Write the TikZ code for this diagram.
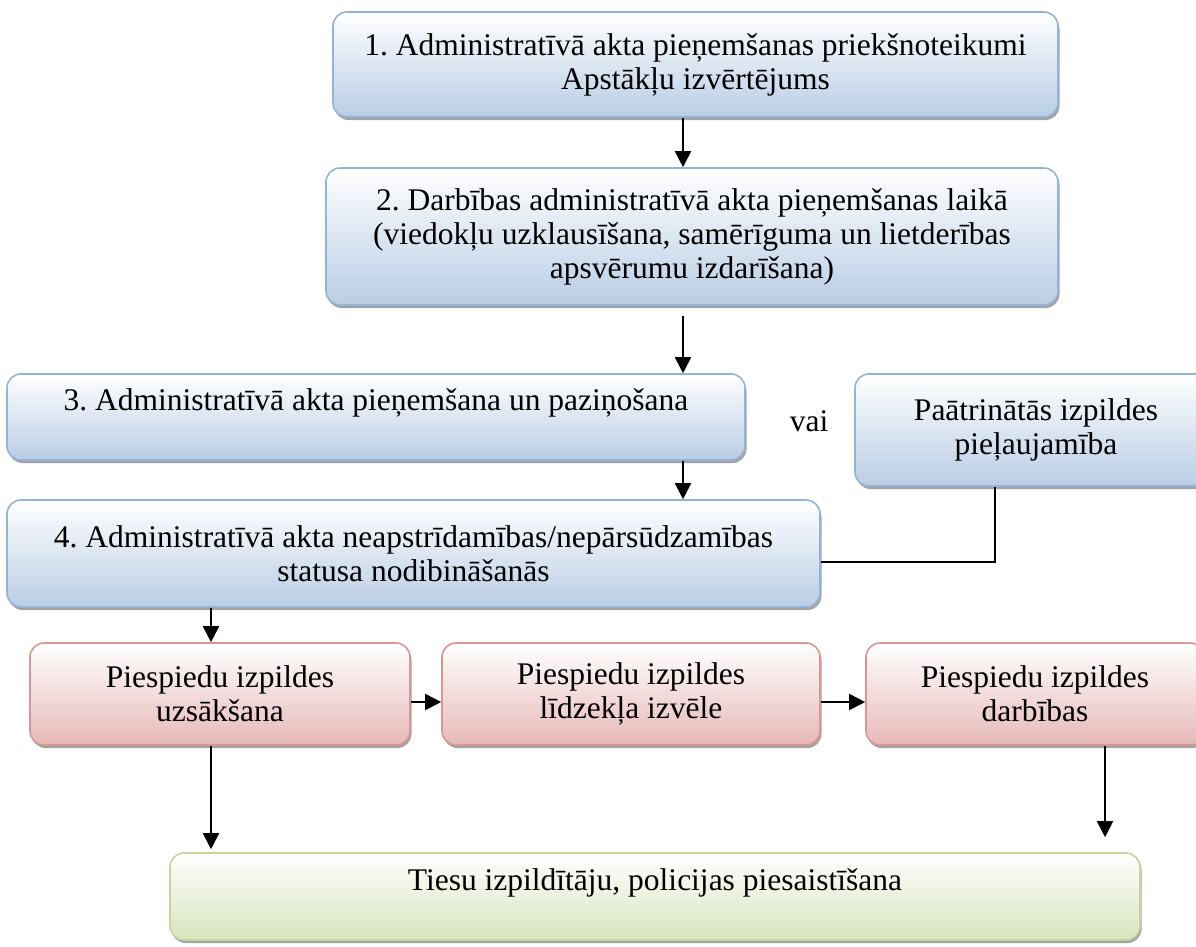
\documentclass[tikz,border=0pt]{standalone}
\usepackage{fontspec}
\setmainfont{Liberation Serif}
\usetikzlibrary{shadows,arrows.meta}
\definecolor{blueB}{HTML}{95B3D7}
\definecolor{blueF}{HTML}{B9CDE5}
\definecolor{pinkB}{HTML}{D99694}
\definecolor{pinkF}{HTML}{E6B9B8}
\definecolor{greenB}{HTML}{C3D69B}
\definecolor{greenF}{HTML}{D7E4BD}
\tikzset{
  txt/.style={font=\fontsize{31.5}{34}\selectfont\frenchspacing},
  boxbase/.style={txt, rounded corners=14pt, line width=1.6pt, align=center, inner sep=0pt,
    drop shadow={shadow xshift=1.5pt, shadow yshift=-3pt, fill=black!45, opacity=0.8}},
  bluebox/.style={boxbase, draw=blueB, top color=white, bottom color=blueF},
  pinkbox/.style={boxbase, draw=pinkB, top color=white, bottom color=pinkF},
  greenbox/.style={boxbase, draw=greenB, top color=white, bottom color=greenF},
  arr/.style={line width=1.8pt, -{Triangle[length=16pt,width=16pt]}},
  conn/.style={line width=1.8pt},
}
\begin{document}
\begin{tikzpicture}[x=1pt,y=-1pt]
\useasboundingbox (0,0) rectangle (1196,946);
\clip (0,0) rectangle (1196,946);
\node[bluebox, minimum width=725pt, minimum height=105pt] (b1) at (695.5,64.5)
  {1. Administratīvā akta pieņemšanas priekšnoteikumi\\Apstākļu izvērtējums};
\node[bluebox, minimum width=732pt, minimum height=137pt] (b2) at (692,236.5)
  {2. Darbības administratīvā akta pieņemšanas laikā\\(viedokļu uzklausīšana, samērīguma un lietderības\\apsvērumu izdarīšana)};
\node[bluebox, minimum width=738pt, minimum height=86pt] (b3) at (376,417)
  {3. Administratīvā akta pieņemšana un paziņošana\\\mbox{}};
\node[txt] (vai) at (809,421) {vai};
\node[bluebox, minimum width=362pt, minimum height=112pt] (bp) at (1036,430)
  {Paātrinātās izpildes\\pieļaujamība};
\node[bluebox, minimum width=813pt, minimum height=107pt] (b4) at (413.5,553.5)
  {4. Administratīvā akta neapstrīdamības/nepārsūdzamības\\statusa nodibināšanās};
\node[pinkbox, minimum width=380pt, minimum height=102pt] (pa) at (220,694)
  {Piespiedu izpildes\\uzsākšana};
\node[pinkbox, minimum width=378pt, minimum height=102pt] (pb) at (631,694)
  {Piespiedu izpildes\\līdzekļa izvēle};
\node[pinkbox, minimum width=338pt, minimum height=102pt] (pc) at (1035,694)
  {Piespiedu izpildes\\darbības};
\node[greenbox, minimum width=970pt, minimum height=87pt] (g) at (655,896.5)
  {Tiesu izpildītāju, policijas piesaistīšana\\\mbox{}};
\coordinate (cx1) at (683,0);
\coordinate (cx2) at (211,0);
\coordinate (cx3) at (995,0);
\coordinate (cx4) at (1105,0);
\coordinate (cy1) at (0,702);
\coordinate (cy2) at (0,562);
\draw[arr] (b1.south -| cx1) -- (b2.north -| cx1);
\draw[arr, shorten <=10pt] (b2.south -| cx1) -- (b3.north -| cx1);
\draw[arr] (b3.south -| cx1) -- (b4.north -| cx1);
\draw[conn] (bp.south -| cx3) |- (b4.east |- cy2);
\draw[arr] (b4.south -| cx2) -- (pa.north -| cx2);
\draw[arr] (pa.east |- cy1) -- (pb.west |- cy1);
\draw[arr] (pb.east |- cy1) -- (pc.west |- cy1);
\draw[arr, shorten >=3pt] (pa.south -| cx2) -- (g.north -| cx2);
\draw[arr, shorten >=15pt] (pc.south -| cx4) -- (g.north -| cx4);
\end{tikzpicture}
\end{document}
